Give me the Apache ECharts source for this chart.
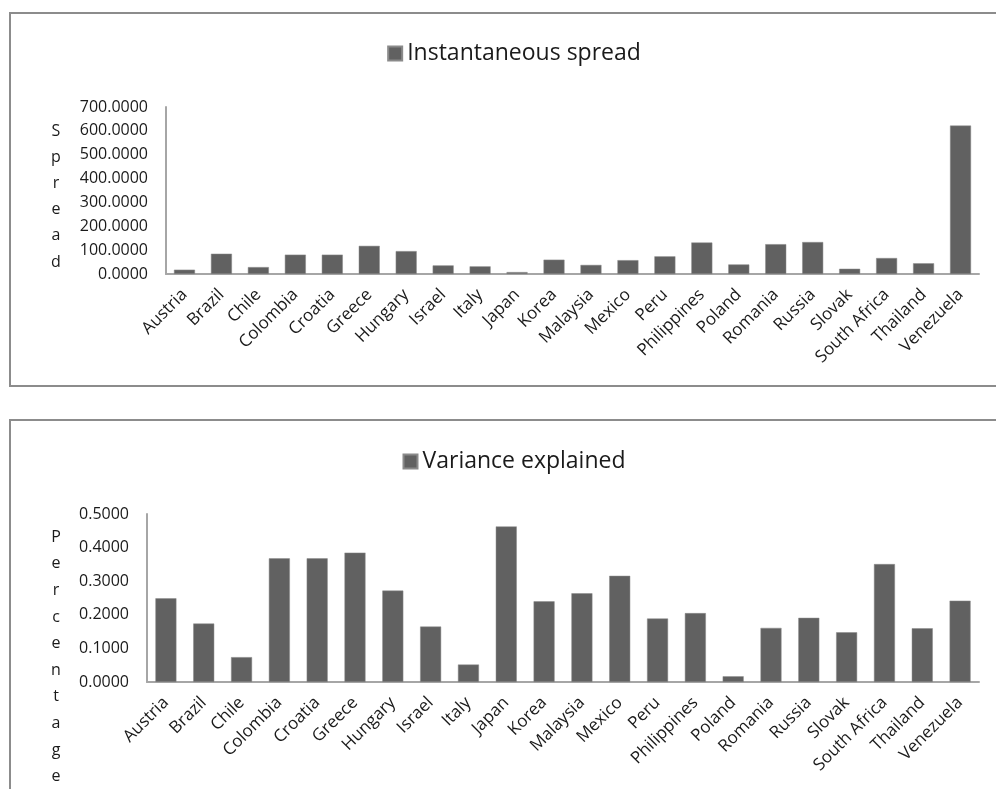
<!DOCTYPE html>
<html>
<head>
<meta charset="utf-8">
<script src="https://cdn.jsdelivr.net/npm/echarts@6/dist/echarts.min.js"></script>
<style>
  html, body { margin: 0; padding: 0; background: #fff; overflow: hidden; width: 996px; height: 789px; }
  .panel { position: absolute; left: 9px; width: 1010px; box-sizing: border-box; border: 2px solid #8c8c8c; background: #fff; }
  #spread { top: 12px; height: 375px; }
  #variance { top: 419px; height: 400px; }
</style>
</head>
<body>
<div id="spread" class="panel"></div>
<div id="variance" class="panel"></div>
<script>
// Countries shared by both panels
const countries = ['Austria', 'Brazil', 'Chile', 'Colombia', 'Croatia', 'Greece', 'Hungary', 'Israel',
  'Italy', 'Japan', 'Korea', 'Malaysia', 'Mexico', 'Peru', 'Philippines', 'Poland', 'Romania',
  'Russia', 'Slovak', 'South Africa', 'Thailand', 'Venezuela'];

// Instantaneous spread per country
const spreadValues = [18, 85, 29, 81, 81, 118, 96, 36, 32, 8, 60, 38, 58, 74, 132, 40, 125, 134, 22, 67, 45, 622];

// Share of variance explained per country
const varianceValues = [0.249, 0.174, 0.074, 0.368, 0.368, 0.385, 0.272, 0.165, 0.052, 0.463, 0.240,
  0.264, 0.316, 0.189, 0.205, 0.017, 0.161, 0.191, 0.148, 0.351, 0.160, 0.242];

// Axis tick settings
const spreadTicks = { min: 0, max: 700, interval: 100 };
const varianceTicks = { min: 0, max: 0.5, interval: 0.1 };

const FONT = '"Open Sans", sans-serif';
const BAR = '#616161';
const AXIS = '#a6a6a6';

// Stacks the axis title one letter per line, preceded by a blank spacer
// line that pushes the column of letters downward.
function stackedName(word) {
  return '{gap| }\n' + word.split('').join('\n');
}

function buildOption(seriesName, values, ticks, axisName, grid, nameGap, spacer, lineH, legendTop) {
  return {
    animation: false,
    textStyle: { fontFamily: FONT },
    legend: {
      top: legendTop,
      left: 'center',
      icon: 'rect',
      itemWidth: 14,
      itemHeight: 14,
      itemGap: 10,
      textStyle: { fontFamily: FONT, fontSize: 23, color: '#1a1a1a' },
      data: [seriesName]
    },
    grid: Object.assign({ containLabel: false, outerBoundsMode: 'none' }, grid),
    xAxis: {
      type: 'category',
      data: countries,
      axisLine: { show: true, lineStyle: { color: AXIS, width: 2 } },
      axisTick: { show: false },
      axisLabel: { rotate: 45, fontSize: 17, color: '#1a1a1a', fontFamily: FONT, margin: 18, interval: 0 }
    },
    yAxis: {
      type: 'value',
      min: ticks.min,
      max: ticks.max,
      interval: ticks.interval,
      name: stackedName(axisName),
      nameLocation: 'middle',
      nameRotate: 0,
      nameGap: nameGap,
      nameTextStyle: {
        fontFamily: FONT, fontSize: 16, color: '#1a1a1a', align: 'center', lineHeight: lineH,
        rich: { gap: { fontSize: 1, height: spacer, lineHeight: spacer } }
      },
      axisLine: { show: true, lineStyle: { color: AXIS, width: 2 } },
      axisTick: { show: false },
      splitLine: { show: false },
      axisLabel: { fontSize: 16, color: '#1a1a1a', fontFamily: FONT, margin: 18, formatter: v => v.toFixed(4) }
    },
    series: [{
      name: seriesName,
      type: 'bar',
      data: values,
      barWidth: 21,
      itemStyle: { color: BAR, borderColor: '#8a8a8a', borderWidth: 0.5 }
    }]
  };
}

const spreadChart = echarts.init(document.getElementById('spread'), null, { renderer: 'canvas' });
spreadChart.setOption(buildOption('Instantaneous spread', spreadValues, spreadTicks, 'Spread',
  { left: 155, top: 93, width: 813, height: 167 }, 110, 12, 26.2, 23));

const varianceChart = echarts.init(document.getElementById('variance'), null, { renderer: 'canvas' });
varianceChart.setOption(buildOption('Variance explained', varianceValues, varianceTicks, 'Percentage',
  { left: 136, top: 93, width: 832, height: 168 }, 91, 118, 26.6, 24));
</script>
</body>
</html>
